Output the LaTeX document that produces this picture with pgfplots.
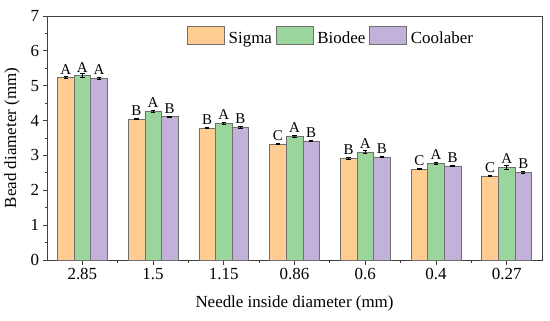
\documentclass[border=0pt]{standalone}
\usepackage{pgfplots}
\pgfplotsset{compat=1.18}
\usepackage{fontspec}
\setmainfont{Liberation Serif}
\definecolor{csig}{HTML}{FFCC91}
\definecolor{cbio}{HTML}{9AD59B}
\definecolor{ccoo}{HTML}{C2B1D9}
\definecolor{cedge}{HTML}{707070}
\begin{document}
\begin{tikzpicture}[x=1bp,y=1bp]
\path[use as bounding box] (0,0) rectangle (550,320);
\begin{axis}[
  at={(47bp,60bp)}, anchor=south west,
  scale only axis, width=495bp, height=244bp,
  xmin=-0.5, xmax=6.5, ymin=0, ymax=7,
  xtick={0,1,2,3,4,5,6},
  xticklabels={2.85,1.5,1.15,0.86,0.6,0.4,0.27},
  minor xtick={0.5,1.5,2.5,3.5,4.5,5.5},
  ytick={0,1,2,3,4,5,6,7},
  minor ytick={0.5,1.5,2.5,3.5,4.5,5.5,6.5},
  tick align=outside, tick pos=left,
  major tick length=4.5bp, minor tick length=2.5bp,
  axis line style={draw=black!75, line width=0.8pt},
  every tick/.style={black!75, line width=0.8pt},
  tick label style={font=\fontsize{17}{17}\selectfont},
  /pgf/number format/assume math mode=true,
  xlabel={Needle inside diameter (mm)},
  ylabel={Bead diameter (mm)},
  label style={font=\fontsize{17}{18}\selectfont},
  xlabel style={at={(rel axis cs:0.5,0)}, anchor=center, yshift=-43bp},
  ylabel style={at={(rel axis cs:0,0.5)}, anchor=center, yshift=35bp},
  ybar=0pt, bar width=0.235,
  legend columns=3,
  legend style={draw=none, fill=none, at={(137bp,236bp)}, anchor=north west,
    font=\fontsize{17}{17}\selectfont, column sep=2bp,
    /tikz/every even column/.style={column sep=2bp}},
  legend image code/.code={\draw[#1, draw=cedge] (0bp,-6bp) rectangle (37bp,12bp);},
  nodes near coords, point meta=explicit symbolic,
  every node near coord/.append style={font=\fontsize{15}{15}\selectfont, yshift=0bp},
  error bars/y dir=both, error bars/y explicit,
  error bars/error bar style={black, line width=0.8pt},
  error bars/error mark options={rotate=90, mark size=2.2bp, black, line width=0.6pt},
]
\addplot[fill=csig, draw=cedge, line width=0.5pt] coordinates {
 (0,5.23) +- (0,0.03) [A]
 (1,4.05) +- (0,0.02) [B]
 (2,3.79) +- (0,0.02) [B]
 (3,3.33) +- (0,0.02) [C]
 (4,2.92) +- (0,0.02) [B]
 (5,2.61) +- (0,0.02) [C]
 (6,2.41) +- (0,0.02) [C]
};
\addplot[fill=cbio, draw=cedge, line width=0.5pt] coordinates {
 (0,5.29) +- (0,0.06) [A]
 (1,4.27) +- (0,0.02) [A]
 (2,3.92) +- (0,0.03) [A]
 (3,3.55) +- (0,0.03) [A]
 (4,3.10) +- (0,0.04) [A]
 (5,2.78) +- (0,0.03) [A]
 (6,2.66) +- (0,0.05) [A]
};
\addplot[fill=ccoo, draw=cedge, line width=0.5pt] coordinates {
 (0,5.21) +- (0,0.03) [A]
 (1,4.11) +- (0,0.02) [B]
 (2,3.82) +- (0,0.03) [B]
 (3,3.42) +- (0,0.02) [B]
 (4,2.96) +- (0,0.02) [B]
 (5,2.70) +- (0,0.02) [B]
 (6,2.52) +- (0,0.02) [B]
};
\legend{Sigma,Biodee,Coolaber}
\end{axis}
\end{tikzpicture}
\end{document}
